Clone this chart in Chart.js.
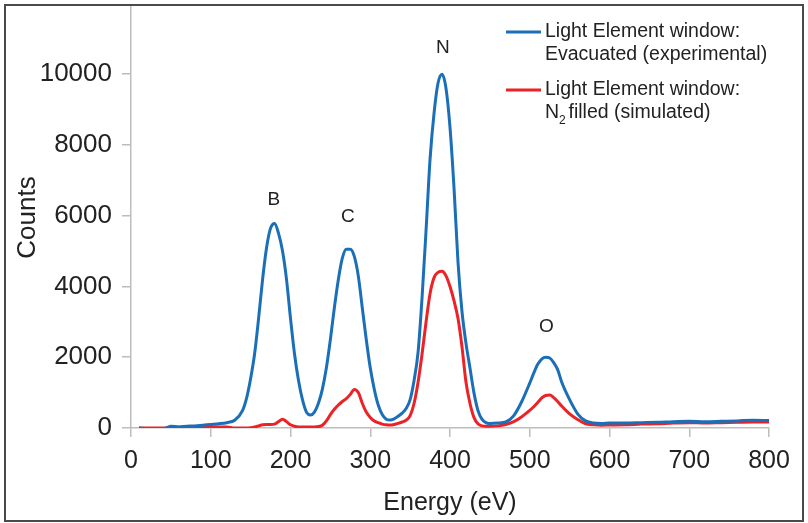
<!DOCTYPE html>
<html>
<head>
<meta charset="utf-8">
<script src="https://cdn.jsdelivr.net/npm/chart.js@4.4.0/dist/chart.umd.min.js"></script>
<style>
  html, body { margin: 0; padding: 0; background: #fff; }
  #wrap { position: relative; width: 808px; height: 523px; }
</style>
</head>
<body>
<div id="wrap"><canvas id="grafico" width="808" height="523"></canvas></div>
<script>
// Datos
const energia = [10,20,30,40,50,60,70,80,90,100,110,120,130,140,145,150,155,160,165,170,175,180,185,190,195,200,205,210,215,220,225,230,235,240,245,250,255,260,265,270,275,280,285,290,295,300,305,310,315,320,325,330,335,340,345,350,355,360,365,370,375,380,385,390,395,400,405,410,415,420,425,430,435,440,445,450,460,470,480,490,500,505,510,515,520,525,530,535,540,550,560,570,580,590,600,620,640,660,680,700,720,740,760,780,800];

const evacuado = [0,-20,-30,-30,50,30,50,60,80,100,120,150,220,500,850,1400,2100,3100,4200,5100,5650,5780,5500,5000,4200,3100,2100,1350,800,450,370,450,700,1100,1700,2500,3400,4200,4800,5050,5050,4850,4300,3400,2500,1700,1100,650,380,250,226,260,330,420,550,800,1350,2150,3700,5600,7600,8900,9750,10000,9600,8500,6800,4700,3300,2400,1700,1000,500,250,150,130,140,170,350,750,1270,1550,1800,1950,2000,1980,1850,1650,1300,800,400,200,140,130,140,140,150,160,180,190,180,190,200,220,210];

const n2lleno = [0,0,0,0,10,20,20,20,25,30,30,30,0,0,0,10,30,60,90,100,100,110,180,250,180,90,50,30,30,30,30,30,40,80,200,380,530,650,750,830,950,1090,1000,700,450,300,200,150,110,90,85,100,130,170,220,350,700,1300,2100,3000,3800,4250,4400,4430,4300,4000,3600,3100,2300,1300,700,300,120,60,50,50,60,100,180,320,500,600,720,850,920,930,860,750,620,400,240,120,90,80,85,90,110,120,140,150,140,150,160,170,170];

const ticksX = [0,100,200,300,400,500,600,700,800];
const ticksY = [0,2000,4000,6000,8000,10000];

const picos = ['B','C','N','O'];
const picosE = [179,272,391,521];
const picosY = [6440,5960,10760,2870];

const azul = '#1b6fb9';
const rojo = '#ec2227';
const texto = '#222';
const fuente = '"Liberation Sans", Arial, sans-serif';

const aPuntos = vals => energia.map((e, i) => ({ x: e, y: vals[i] }));

// Etiquetas de picos, leyenda y marco
const extras = {
    id: 'extras',
    afterDraw(chart) {
        const ctx = chart.ctx;
        const sx = chart.scales.x, sy = chart.scales.y;
        ctx.save();
        ctx.fillStyle = texto;
        ctx.font = '19px ' + fuente;
        ctx.textAlign = 'center';
        ctx.textBaseline = 'middle';
        picos.forEach((p, i) => {
            ctx.fillText(p, sx.getPixelForValue(picosE[i]), sy.getPixelForValue(picosY[i]));
        });

        // leyenda
        ctx.lineWidth = 3;
        ctx.strokeStyle = azul;
        ctx.beginPath(); ctx.moveTo(506, 32); ctx.lineTo(541, 32); ctx.stroke();
        ctx.strokeStyle = rojo;
        ctx.beginPath(); ctx.moveTo(506, 90); ctx.lineTo(541, 90); ctx.stroke();
        ctx.textAlign = 'left';
        ctx.font = '19.5px ' + fuente;
        ctx.fillText('Light Element window:', 545, 32);
        ctx.fillText('Evacuated (experimental)', 545, 55);
        ctx.fillText('Light Element window:', 545, 90);
        ctx.fillText('N', 545, 113);
        const wN = ctx.measureText('N').width;
        ctx.font = '12px ' + fuente;
        ctx.fillText('2', 545 + wN, 121);
        ctx.font = '19.5px ' + fuente;
        ctx.fillText(' filled (simulated)', 545 + wN + 4, 113);

        // marco
        ctx.strokeStyle = '#4a4a4a';
        ctx.lineWidth = 2;
        ctx.strokeRect(5, 5, 798, 516);
        ctx.restore();
    }
};

const ctx = document.getElementById('grafico').getContext('2d');
new Chart(ctx, {
    type: 'line',
    data: {
        datasets: [
            { label: 'Evacuated (experimental)', data: aPuntos(evacuado), borderColor: azul, borderWidth: 3, pointRadius: 0, cubicInterpolationMode: 'monotone' },
            { label: 'N2 filled (simulated)', data: aPuntos(n2lleno), borderColor: rojo, borderWidth: 3, pointRadius: 0, cubicInterpolationMode: 'monotone' }
        ]
    },
    options: {
        responsive: false,
        animation: false,
        layout: { padding: { top: 7, right: 39, left: 0, bottom: 0 } },
        plugins: { legend: { display: false }, tooltip: { enabled: false } },
        scales: {
            x: {
                type: 'linear',
                min: 0, max: 800,
                afterFit: s => { s.height = 95; },
                afterBuildTicks: s => { s.ticks = ticksX.map(v => ({ value: v })); },
                grid: { drawOnChartArea: false, drawTicks: true, tickLength: 9, color: '#bdbdbd', lineWidth: 1.5 },
                border: { display: true, color: '#bdbdbd', width: 1.5 },
                ticks: { color: texto, padding: 9, maxRotation: 0, callback: v => String(v), font: { family: fuente, size: 25 } },
                title: { display: true, text: 'Energy (eV)', color: texto, padding: { top: 0, bottom: 5 }, font: { family: fuente, size: 25 } }
            },
            y: {
                min: 0, max: 11900,
                afterFit: s => { s.width = 131; s.paddingTop = 0; s.paddingBottom = 0; },
                afterBuildTicks: s => { s.ticks = ticksY.map(v => ({ value: v })); },
                grid: { drawOnChartArea: false, drawTicks: true, tickLength: 9, color: '#bdbdbd', lineWidth: 1.5 },
                border: { display: true, color: '#bdbdbd', width: 1.5 },
                ticks: { color: texto, padding: 10, callback: v => String(v), font: { family: fuente, size: 26 } },
                title: { display: true, text: 'Counts', color: texto, padding: { top: 12, bottom: 0 }, font: { family: fuente, size: 26 } }
            }
        }
    },
    plugins: [extras]
});
</script>
</body>
</html>
